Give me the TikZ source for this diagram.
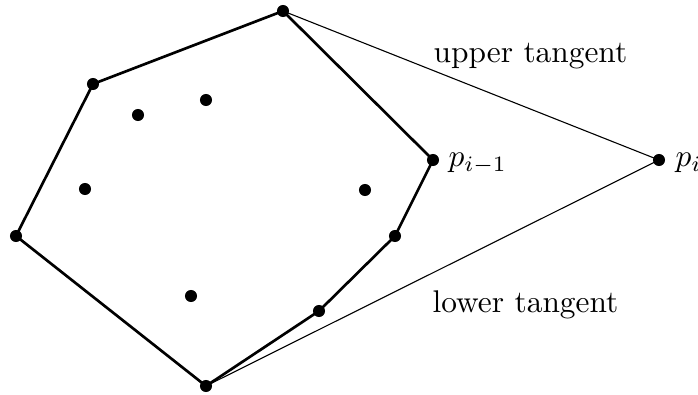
\documentclass[tikz,border=0pt]{standalone}
\begin{document}
\begin{tikzpicture}[x=0.0112cm,y=-0.0112cm,
  pt/.style={circle,fill=black,inner sep=0pt,minimum size=1.35mm},
  hull/.style={line width=0.85pt},
  tang/.style={line width=0.35pt},
  lbl/.style={inner sep=0pt,anchor=base west}]
\useasboundingbox (0,0) rectangle (698,395);
\node[pt] (t) at (283,11) {};
\node[pt] (a) at (93,84) {};
\node[pt] (b) at (138,115) {};
\node[pt] (c) at (206,100) {};
\node[pt] (pm) at (433,160) {};
\node[pt] (pi) at (659,160) {};
\node[pt] (d) at (85,189) {};
\node[pt] (e) at (365,190) {};
\node[pt] (l) at (16,236) {};
\node[pt] (r) at (395,236) {};
\node[pt] (f) at (191,296) {};
\node[pt] (s) at (319,311) {};
\node[pt] (bot) at (206,386) {};
\draw[hull] (t.center) -- (a.center) -- (l.center) -- (bot.center) -- (s.center) -- (r.center) -- (pm.center) -- cycle;
\draw[tang] (t.center) -- (pi.center);
\draw[tang] (bot.center) -- (pi.center);
\node[lbl] (ut) at (433,63) {upper tangent};
\node[lbl] (lt) at (432,313) {lower tangent};
\node[lbl] (lpm) at (448,167) {$p_{i-1}$};
\node[lbl] (lpi) at (675,167) {$p_i$};
\end{tikzpicture}
\end{document}
